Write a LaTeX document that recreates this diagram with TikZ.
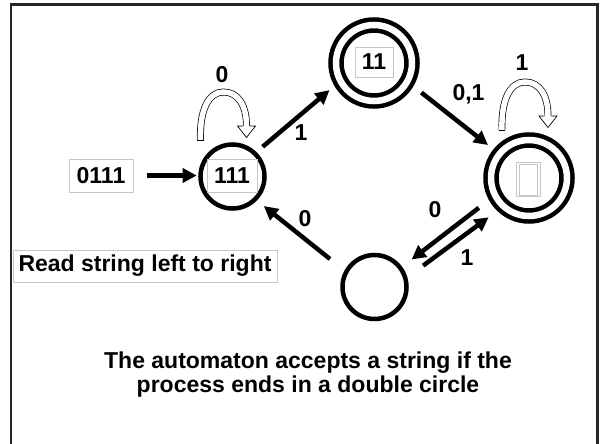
\documentclass[tikz,border=0pt]{standalone}
\usepackage{fontspec}
\setmainfont{Liberation Sans}
\usetikzlibrary{arrows.meta,calc}
\tikzset{
  hollowloop/.pic={
    \draw[line width=0.7pt,double=white,double distance=5.5pt]
      (0,0) .. controls (-1,-30) and (8,-48) .. (23,-48)
            .. controls (38,-48) and (46,-34) .. (46,-14);
    \draw[line width=0.7pt] (-3.45,0) -- (3.45,0);
    \fill[white] (37,-14) -- (55,-14) -- (46,-2.5) -- cycle;
    \draw[line width=0.7pt,line join=miter]
      (42.6,-14) -- (37,-14) -- (46,-2.5) -- (55,-14) -- (49.4,-14);
  }
}
\begin{document}
\begin{tikzpicture}[x=1pt,y=-1pt,
  every node/.style={font=\fontsize{23}{24}\selectfont\bfseries},
  state/.style={circle,draw,line width=4.5pt,minimum size=64pt,inner sep=0pt,outer sep=0pt},
  accept/.style={state,minimum size=76pt,double,double distance=6.5pt},
  trans/.style={line width=4.5pt,-{Triangle[length=14pt,width=14pt]}},
  tbox/.style={draw=black!22,line width=0.8pt,inner sep=0pt},
  lbl/.style={inner sep=0pt},
]
\useasboundingbox (0,0) rectangle (600,444);
\fill[white] (0,0) rectangle (600,444);
\draw[line width=2.5pt,black!85] (11,460) -- (11,4.5) -- (597.5,4.5) -- (597.5,460);

% states
\node[state] (q111) at (232.5,176.5) {};
\node[tbox,minimum width=50pt,minimum height=33pt] (t111) at (232,175.5) {111};
\node[accept] (q11) at (374,63) {};
\node[tbox,minimum width=38pt,minimum height=30pt] (t11) at (374,62) {11};
\node[accept] (qE) at (529,178) {};
\node[tbox,minimum width=24pt,minimum height=34pt] (tE) at (528,179) {};
\draw[black!22,line width=0.8pt] ($(tE.south west)+(4,-1)$) rectangle ($(tE.north east)+(-3,3)$);
\node[state] (qB) at (374.5,287) {};

% input and note
\node[tbox,minimum width=64pt,minimum height=33pt] (inp) at (101,175.5) {0111};
\node[tbox,minimum width=264pt,minimum height=32pt] (read) at (145,266) {Read string left to right};

% transitions
\draw[trans,shorten <=14pt,shorten >=3.8pt] (inp.east) -- (q111.west |- inp.east);
\draw[trans,shorten <=10.4pt,shorten >=14.4pt] (q111.46) -- (q11.208);
\draw[trans,shorten <=18pt,shorten >=14.6pt] (q11.331) -- (qE.141);
\draw[trans,shorten <=20.6pt,shorten >=14.2pt] (qE.207) -- (qB.36);
\draw[trans,shorten <=22pt,shorten >=18.6pt] (qB.15) -- (qE.228);
\draw[trans,shorten <=20.8pt,shorten >=11.1pt] (qB.152) -- (q111.315);

% self loops
\pic at ($(q111)+(-32,-36.5)$) {hollowloop};
\pic at ($(qE)+(-27,-48)$) {hollowloop};

% labels
\node[lbl] (l1) at (222,75) {0};
\node[lbl] (l2) at (301,133) {1};
\node[lbl,anchor=base] (l3) at (468.5,100.5) {0,1};
\node[lbl] (l4) at (522,63) {1};
\node[lbl] (l5) at (435,210) {0};
\node[lbl] (l6) at (467,258) {1};
\node[lbl] (l7) at (305,219) {0};

% caption
\node[anchor=base] (cap1) at (308,368) {The automaton accepts a string if the};
\node[anchor=base] (cap2) at (308,392) {process ends in a double circle};
\end{tikzpicture}
\end{document}
